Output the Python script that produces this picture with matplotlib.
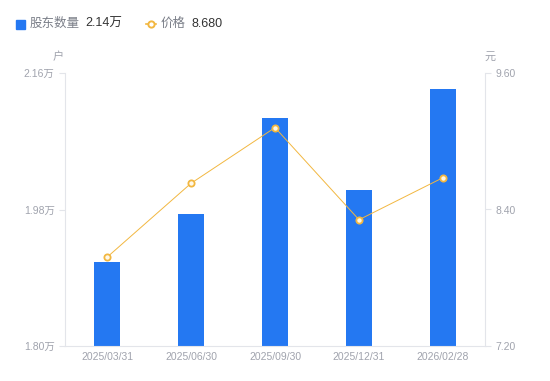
import numpy as np
import matplotlib
matplotlib.use("Agg")
import matplotlib.pyplot as plt
from matplotlib.lines import Line2D

plt.rcParams['font.family'] = ['Liberation Sans', 'Noto Sans CJK SC', 'DejaVu Sans']

dates = ['2025/03/31', '2025/06/30', '2025/09/30', '2025/12/31', '2026/02/28']
holders = [1.911, 1.974, 2.101, 2.006, 2.139]   # 万户
price = [7.98, 8.63, 9.12, 8.31, 8.68]           # 元
left_ticks = [1.80, 1.98, 2.16]
right_ticks = [7.20, 8.40, 9.60]

bar_color = '#2478F2'
line_color = '#F2B740'
grey = '#A0A3AD'
axis_color = '#E3E5EA'

fig = plt.figure(figsize=(5.5, 3.81), dpi=100)
ax = fig.add_axes([65/550, 35/381, 420/550, 273/381])
x = np.arange(len(dates))
ax.bar(x, holders, width=0.3, color=bar_color, zorder=2)
ax.set_xlim(-0.5, len(dates) - 0.5)
ax.set_ylim(left_ticks[0], left_ticks[-1])
ax.set_yticks(left_ticks)
ax.set_yticklabels([f'{v:.2f}万' for v in left_ticks])
ax.set_xticks(x)
ax.set_xticklabels(dates)

ax2 = ax.twinx()
ax2.plot(x, price, color=line_color, linewidth=0.7, marker='o', markersize=4.5,
         markerfacecolor='#FFF8E8', markeredgecolor=line_color, markeredgewidth=1.3,
         zorder=3)
ax2.set_ylim(right_ticks[0], right_ticks[-1])
ax2.set_yticks(right_ticks)
ax2.set_yticklabels([f'{v:.2f}' for v in right_ticks])

for a in (ax, ax2):
    for s in a.spines.values():
        s.set_visible(False)
    a.tick_params(colors=axis_color, labelcolor=grey, labelsize=7.5, length=4, width=0.8)
ax.tick_params(axis='x', length=0, pad=4)
ax.spines['left'].set_visible(True)
ax.spines['left'].set_color(axis_color)
ax.spines['bottom'].set_visible(True)
ax.spines['bottom'].set_color(axis_color)
ax2.spines['right'].set_visible(True)
ax2.spines['right'].set_color(axis_color)

fig.text(58/550, 1 - 57/381, '户', color=grey, fontsize=8, ha='center', va='center')
fig.text(490/550, 1 - 57/381, '元', color=grey, fontsize=8, ha='center', va='center')

# legend
ly = 1 - 24/381
fig.patches.append(plt.Rectangle((16/550, 1 - 29/381), 9/550, 9/381,
                                 transform=fig.transFigure, color=bar_color, figure=fig))
fig.text(30/550, ly, '股东数量', color='#7A7E88', fontsize=9, va='center')
fig.text(85/550, ly, f'{holders[-1]:.2f}万', color='#333333', fontsize=9, va='center')
fig.lines.append(Line2D([145.5/550, 155.5/550], [ly, ly], transform=fig.transFigure,
                        color=line_color, linewidth=1.2))
fig.lines.append(Line2D([150.5/550], [ly], transform=fig.transFigure,
                        marker='o', markersize=4.5, markerfacecolor='white',
                        markeredgecolor=line_color, markeredgewidth=1.4))
fig.text(161/550, ly, '价格', color='#7A7E88', fontsize=9, va='center')
fig.text(191/550, ly, f'{price[-1]:.3f}', color='#333333', fontsize=9, va='center')

fig.savefig('out.png', dpi=100)
